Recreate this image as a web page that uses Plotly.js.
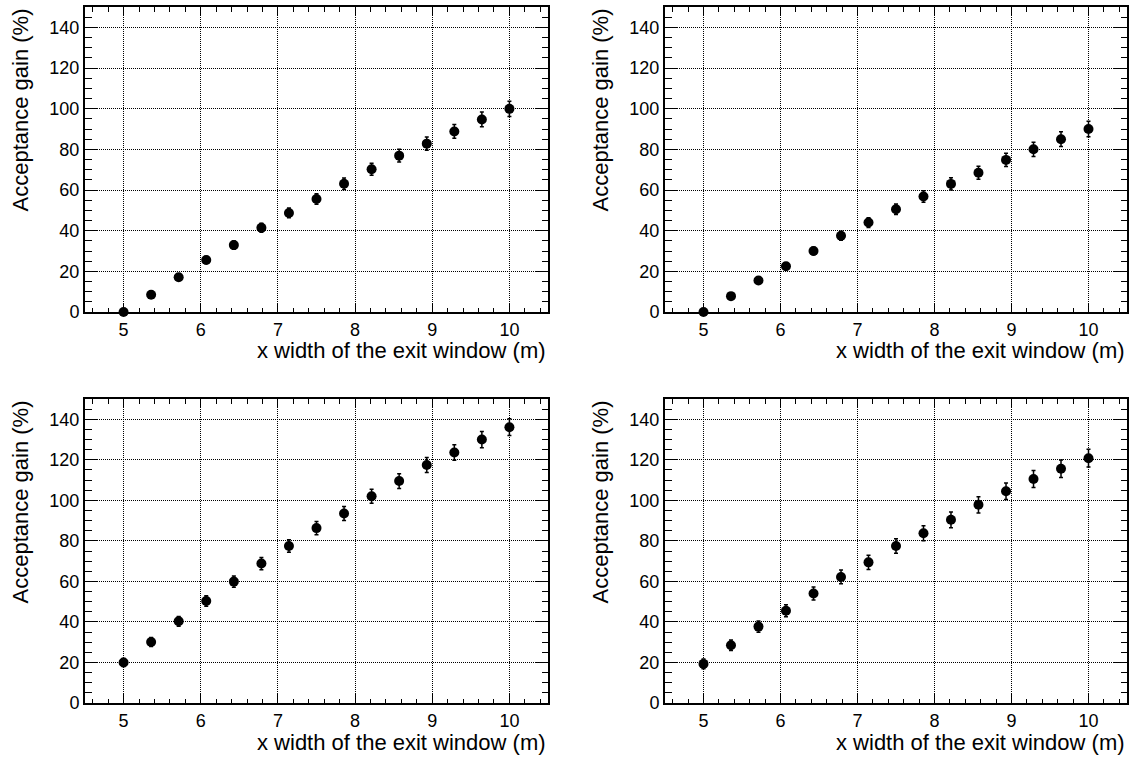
<!DOCTYPE html>
<html>
<head>
<meta charset="utf-8">
<script src="https://cdn.plot.ly/plotly-3.0.1.min.js"></script>
<style>html,body{margin:0;padding:0;background:#fff;}#plot{width:1134px;height:763px;}</style>
</head>
<body>
<div id="plot"></div>
<script>
// x width of the exit window (m)
const xWidth = [5, 5.357, 5.714, 6.071, 6.429, 6.786, 7.143, 7.5, 7.857, 8.214, 8.571, 8.929, 9.286, 9.643, 10];

// Acceptance gain (%) per panel
const gainTopLeft     = [0, 8.5, 17.1, 25.6, 32.9, 41.4, 48.7, 55.6, 63.1, 70.2, 76.9, 82.8, 88.8, 94.7, 99.9];
const errTopLeft      = [0.3, 1.0, 1.4, 1.7, 2.0, 2.2, 2.4, 2.6, 2.8, 3.0, 3.1, 3.3, 3.4, 3.6, 3.7];

const gainTopRight    = [0, 7.8, 15.5, 22.5, 30.0, 37.5, 44.0, 50.5, 56.8, 63.0, 68.5, 74.8, 80.0, 85.0, 90.0];
const errTopRight     = [0.3, 1.0, 1.3, 1.6, 1.9, 2.2, 2.4, 2.6, 2.8, 3.0, 3.2, 3.3, 3.5, 3.6, 3.8];

const gainBottomLeft  = [20.0, 30.1, 40.3, 50.3, 59.9, 68.8, 77.5, 86.3, 93.5, 102.0, 109.5, 117.4, 123.6, 130.0, 136.1];
const errBottomLeft   = [2.0, 2.2, 2.4, 2.6, 2.8, 3.0, 3.1, 3.3, 3.4, 3.5, 3.6, 3.7, 3.8, 4.0, 4.1];

const gainBottomRight = [19.3, 28.5, 37.7, 45.5, 54.0, 62.2, 69.4, 77.5, 83.8, 90.4, 97.8, 104.5, 110.5, 115.6, 120.8];
const errBottomRight  = [2.4, 2.6, 2.8, 3.0, 3.2, 3.4, 3.5, 3.6, 3.7, 3.9, 4.0, 4.1, 4.2, 4.3, 4.4];

const xTitle = 'x width of the exit window (m)';
const yTitle = 'Acceptance gain (%)';

const panels = [
  {y: gainTopLeft, e: errTopLeft},
  {y: gainTopRight, e: errTopRight},
  {y: gainBottomLeft, e: errBottomLeft},
  {y: gainBottomRight, e: errBottomRight}
];

const W = 1134, H = 763;
const xDomLeft = [85 / W, 548 / W];
const xDomRight = [665 / W, 1127 / W];
const yDomTop = [1 - 312 / H, 1 - 7 / H];
const yDomBottom = [1 - 703 / H, 1 - 399 / H];

const FONT = 'Liberation Sans, Arial, Helvetica, sans-serif';

const traces = panels.map((p, i) => ({
  type: 'scatter',
  mode: 'markers',
  x: xWidth,
  y: p.y,
  xaxis: i === 0 ? 'x' : 'x' + (i + 1),
  yaxis: i === 0 ? 'y' : 'y' + (i + 1),
  marker: {color: 'black', size: 10, symbol: 'circle'},
  error_y: {type: 'data', array: p.e, visible: true, color: 'black', thickness: 1.5, width: 2},
  cliponaxis: false,
  showlegend: false,
  hoverinfo: 'x+y'
}));

function xAxis(domain, anchor) {
  return {
    domain: domain, anchor: anchor,
    range: [4.5, 10.5], tick0: 0, dtick: 1,
    ticks: 'inside', ticklen: 9, tickwidth: 1, tickcolor: 'black',
    minor: {tick0: 0, dtick: 0.2, ticks: 'inside', ticklen: 4.5, tickwidth: 1, tickcolor: 'black', showgrid: false},
    showline: true, linewidth: 2, linecolor: 'black', mirror: 'ticks',
    showgrid: true, gridcolor: 'black', gridwidth: 1, griddash: '1px,1px',
    zeroline: false,
    tickfont: {family: FONT, size: 18, color: 'black'}
  };
}
function yAxis(domain, anchor) {
  return {
    domain: domain, anchor: anchor,
    range: [0, 150], tick0: 0, dtick: 20,
    ticks: 'inside', ticklen: 13, tickwidth: 1, tickcolor: 'black',
    minor: {tick0: 0, dtick: 5, ticks: 'inside', ticklen: 6.5, tickwidth: 1, tickcolor: 'black', showgrid: false},
    showline: true, linewidth: 2, linecolor: 'black', mirror: 'ticks',
    showgrid: true, gridcolor: 'black', gridwidth: 1, griddash: '1px,1px',
    zeroline: false,
    tickfont: {family: FONT, size: 18, color: 'black'}
  };
}

const layout = {
  width: W, height: H,
  margin: {l: 0, r: 0, t: 0, b: 0, pad: 0},
  paper_bgcolor: 'white', plot_bgcolor: 'white',
  showlegend: false,
  xaxis:  xAxis(xDomLeft, 'y'),
  yaxis:  yAxis(yDomTop, 'x'),
  xaxis2: xAxis(xDomRight, 'y2'),
  yaxis2: yAxis(yDomTop, 'x2'),
  xaxis3: xAxis(xDomLeft, 'y3'),
  yaxis3: yAxis(yDomBottom, 'x3'),
  xaxis4: xAxis(xDomRight, 'y4'),
  yaxis4: yAxis(yDomBottom, 'x4'),
  annotations: []
};

const xDoms = [xDomLeft, xDomRight, xDomLeft, xDomRight];
const yDoms = [yDomTop, yDomTop, yDomBottom, yDomBottom];
const yTitleX = [20 / W, 600 / W, 20 / W, 600 / W];
const xTitleY = [1 - 351 / H, 1 - 351 / H, 1 - 742 / H, 1 - 742 / H];
for (let i = 0; i < 4; i++) {
  layout.annotations.push({
    xref: 'paper', yref: 'paper',
    x: xDoms[i][1], y: xTitleY[i],
    xanchor: 'right', yanchor: 'middle',
    text: xTitle, showarrow: false,
    font: {family: FONT, size: 22, color: 'black'}
  });
  layout.annotations.push({
    xref: 'paper', yref: 'paper',
    x: yTitleX[i], y: yDoms[i][1],
    xanchor: 'center', yanchor: 'top',
    text: yTitle, showarrow: false, textangle: -90,
    font: {family: FONT, size: 22, color: 'black'}
  });
}

Plotly.newPlot('plot', traces, layout, {staticPlot: true, displayModeBar: false});
</script>
</body>
</html>
